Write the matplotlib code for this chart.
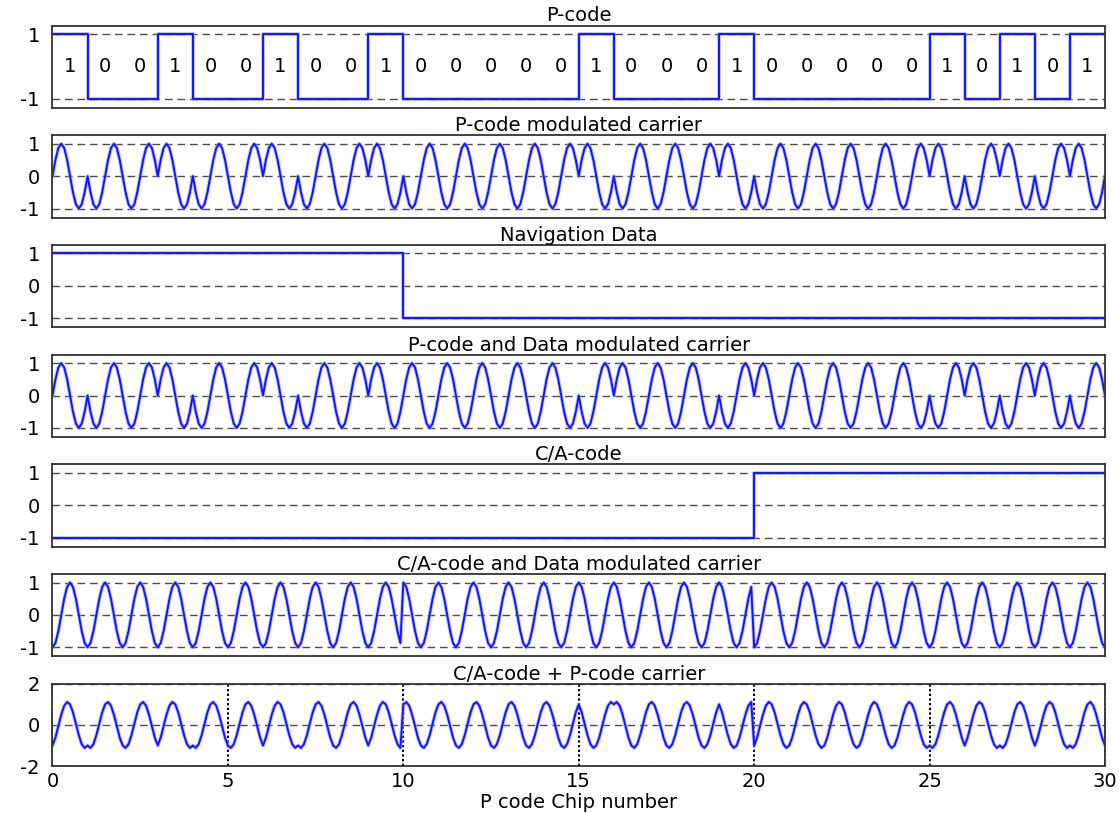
import numpy as np
import matplotlib.pyplot as plt

plt.rcParams['font.family'] = ['DejaVu Sans']
plt.rcParams['axes.unicode_minus'] = False

# code bits, one per P-code chip
n_chips = 30
p_code_bits = [1, 0, 0, 1, 0, 0, 1, 0, 0, 1, 0, 0, 0, 0, 0,
               1, 0, 0, 0, 1, 0, 0, 0, 0, 0, 1, 0, 1, 0, 1]
nav_levels = [1, -1]
nav_switch = [0, 10, 30]      # chip numbers where nav data bit changes
ca_levels = [-1, 1]
ca_switch = [0, 20, 30]       # chip numbers where C/A chip changes
p_weight = 0.5                # P carrier amplitude relative to C/A in the sum
samples_per_chip = 12

titles = ["P-code", "P-code modulated carrier", "Navigation Data",
          "P-code and Data modulated carrier", "C/A-code",
          "C/A-code and Data modulated carrier", "C/A-code + P-code carrier"]


def expand(levels, switch):
    return np.repeat(levels, np.diff(switch))


p = 2 * np.array(p_code_bits) - 1
nav = expand(nav_levels, nav_switch)
ca = expand(ca_levels, ca_switch)

t = np.arange(n_chips * samples_per_chip + 1) / samples_per_chip
idx = np.minimum(t.astype(int), n_chips - 1)
sin_c = np.sin(2 * np.pi * t)
cos_c = np.cos(2 * np.pi * t)

sig_p = p[idx] * sin_c
sig_pd = p[idx] * nav[idx] * sin_c
sig_cd = ca[idx] * nav[idx] * cos_c
sig_sum = sig_cd + p_weight * sig_pd

edges = np.arange(n_chips + 1)

W, H = 1119, 813
fig = plt.figure(figsize=(W / 100, H / 100), dpi=100)

left, right = 52.5, 1105
top0, step, h = 25.6, 109.7, 82.3
blue = '#1414ff'
fs = 14


def draw(ax, x, y, stairs=False):
    # light halo under the line, like the blurred original
    if stairs:
        ax.step(x, y, where='post', color='#9a9aff', lw=2.8, alpha=0.6)
        ax.step(x, y, where='post', color=blue, lw=1.4)
    else:
        ax.plot(x, y, color='#9a9aff', lw=2.8, alpha=0.6)
        ax.plot(x, y, color=blue, lw=1.4)


axes = []
for k in range(7):
    top = top0 + step * k
    ax = fig.add_axes([left / W, 1 - (top + h) / H, (right - left) / W, h / H])
    ax.set_xlim(0, n_chips)
    ax.set_title(titles[k], fontsize=fs, pad=3)
    ax.tick_params(length=0, labelsize=fs, pad=9)
    for s in ax.spines.values():
        s.set_linewidth(1.3)
        s.set_color('0.2')
    ax.grid(axis='y', linestyle=(0, (5.5, 3.5)), color='0.3', linewidth=1.0)
    ax.set_axisbelow(True)
    if k < 6:
        ax.set_xticks([])
        ax.set_ylim(-1.28, 1.26)
        ax.set_yticks([1, 0, -1])
    axes.append(ax)

# P-code
ax = axes[0]
draw(ax, edges, np.append(p, p[-1]), stairs=True)
ax.set_yticks([1, -1])
for i, b in enumerate(p_code_bits):
    ax.text(i + 0.5, 0, str(b), ha='center', va='center', fontsize=fs)

draw(axes[1], t, sig_p)
draw(axes[2], edges, np.append(nav, nav[-1]), stairs=True)
draw(axes[3], t, sig_pd)
draw(axes[4], edges, np.append(ca, ca[-1]), stairs=True)
draw(axes[5], t, sig_cd)

ax = axes[6]
draw(ax, t, sig_sum)
ax.set_ylim(-2, 2)
ax.set_yticks([2, 0, -2])
ax.set_xticks(np.arange(0, 31, 5))
ax.tick_params(axis='x', pad=4)
ax.grid(axis='x', linestyle=(0, (1.2, 1.2)), color='black', linewidth=1.4)
ax.set_xlabel("P code Chip number", fontsize=fs, labelpad=2)

fig.savefig("out.png", dpi=100)
